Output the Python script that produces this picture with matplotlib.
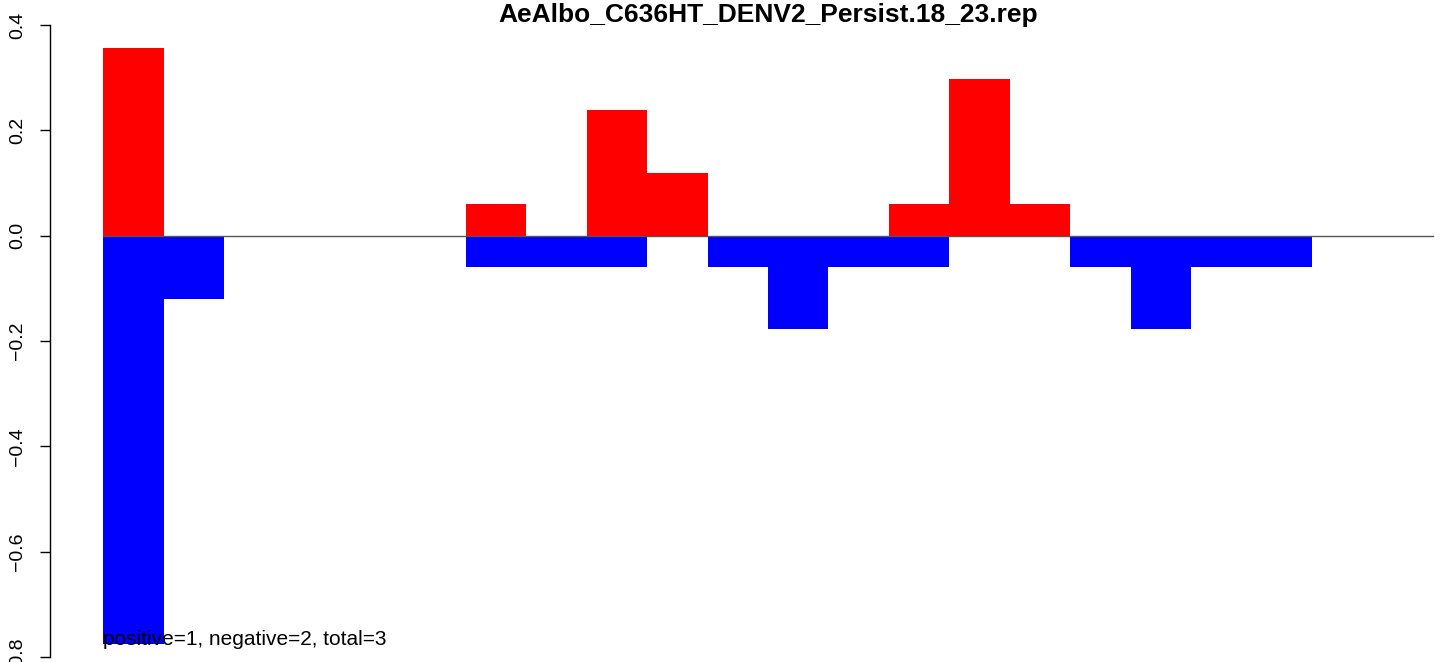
"""Recreate the positive/negative bar chart for AeAlbo_C636HT_DENV2_Persist.18_23.rep."""

import matplotlib

matplotlib.use("Agg")
import matplotlib.pyplot as plt
import numpy as np

plt.rcParams["font.family"] = ["Liberation Sans", "DejaVu Sans"]

title = "AeAlbo_C636HT_DENV2_Persist.18_23.rep"
note = "positive=1, negative=2, total=3"

positions = np.arange(22)
pos_values = [0.357, 0, 0, 0, 0, 0, 0.06, 0, 0.238, 0.119, 0,
              0, 0, 0.06, 0.298, 0.06, 0, 0, 0, 0, 0, 0]
neg_values = [-0.775, -0.12, 0, 0, 0, 0, -0.06, -0.06, -0.06, 0, -0.06,
              -0.178, -0.06, -0.06, 0, 0, -0.06, -0.178, -0.06, -0.06, 0, 0]
y_ticks = [-0.8, -0.6, -0.4, -0.2, 0.0, 0.2, 0.4]
y_ticklabels = ["\u22120.8", "\u22120.6", "\u22120.4", "\u22120.2", "0.0", "0.2", "0.4"]

W, H = 1444, 662
fig = plt.figure(figsize=(W / 100, H / 100), dpi=100)
# plot region in pixels: R's region runs past the right edge of the png
left, right, top, bottom = 50, 1486, 25, 657
ax = fig.add_axes([left / W, (H - bottom) / H, (right - left) / W, (bottom - top) / H])

n = len(positions)
ax.bar(positions, pos_values, width=1.0, align="edge", color="#ff0000", linewidth=0)
ax.bar(positions, neg_values, width=1.0, align="edge", color="#0000ff", linewidth=0)
ax.plot([0, n], [0, 0], color="#555555", linewidth=1.0)

pad = 0.04 * n
ax.set_xlim(-pad, n + pad)
ax.set_ylim(-0.8, 0.4)

for side in ("top", "right", "bottom"):
    ax.spines[side].set_visible(False)
ax.spines["left"].set_linewidth(1.0)
ax.set_xticks([])
ax.set_yticks(y_ticks)
ax.set_yticklabels(y_ticklabels, rotation=90, va="center", fontsize=14)
ax.tick_params(axis="y", length=7.2, width=1.0, pad=10)
for lab in ax.get_yticklabels():
    lab.set_clip_on(False)

ax.set_title(title, fontsize=19, fontweight="bold", pad=2, y=1.0)
ax.text(0, -0.777, note, fontsize=15, ha="left", va="baseline")

fig.savefig("out.png", dpi=100)
